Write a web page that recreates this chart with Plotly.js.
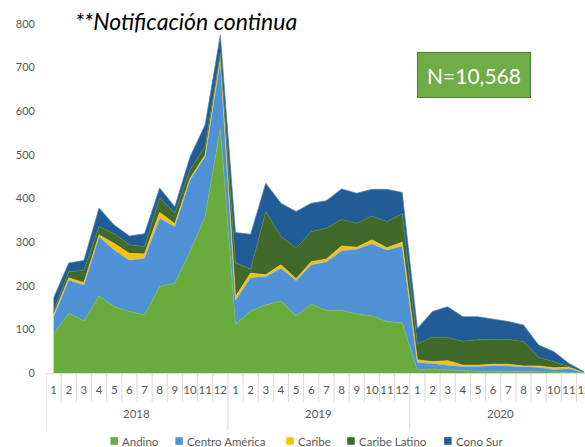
<!DOCTYPE html>
<html>
<head>
<meta charset="utf-8">
<script src="https://cdn.plot.ly/plotly-3.0.1.min.js"></script>
<style>html,body{margin:0;padding:0;background:#fff;}#chart{width:585px;height:447px;}</style>
</head>
<body>
<div id="chart"></div>
<script>
const years = ["2018", "2019", "2020"];
const months = ["1","2","3","4","5","6","7","8","9","10","11","12"];
const seriesNames = ["Andino", "Centro América", "Caribe", "Caribe Latino", "Cono Sur"];
const andino = [89,137,119,177,152,141,133,198,206,278,359,561,
                112,142,156,165,131,158,143,144,135,131,118,115,
                7,9,7,5,4,4,4,3,3,2,1,0];
const centroAmerica = [40,76,83,136,130,118,130,157,130,165,137,157,
                55,77,65,75,81,90,112,136,149,165,164,176,
                17,13,11,10,11,13,12,11,10,6,9,1];
const caribe = [4,5,5,3,15,15,10,13,6,3,4,4,
                8,10,4,8,4,7,6,11,4,9,5,9,
                6,4,10,3,3,3,4,2,3,4,3,0];
const caribeLatino = [8,14,28,20,22,20,17,33,24,20,19,11,
                78,9,145,65,70,69,71,61,55,55,60,65,
                37,56,53,55,58,57,57,56,20,14,2,1];
const conoSur = [31,20,23,42,20,20,29,23,15,29,50,42,
                69,80,65,76,84,65,63,70,69,61,74,49,
                35,59,71,56,53,46,41,38,28,23,7,1];
const yTicks = [0,100,200,300,400,500,600,700,800];
const totalLabel = "N=10,568";
const titleText = "**Notificación continua";

const ids = [], monthText = [];
years.forEach(y => months.forEach(m => { ids.push(y + "-" + m); monthText.push(m); }));
const nCat = ids.length;
const perYear = months.length;

const values = [andino, centroAmerica, caribe, caribeLatino, conoSur];
const fills = ["#6aab3d", "#4f92d5", "#ffc000", "#40692a", "#215c96"];
const lines = ["#7fbf55", "#8cb8e6", "#ffd24d", "#5a8a3c", "#4a80b8"];

const traces = values.map((v, i) => ({
  type: "scatter",
  mode: "lines",
  name: seriesNames[i],
  x: ids,
  y: v,
  stackgroup: "one",
  fillcolor: fills[i],
  line: {color: lines[i], width: 0.7},
  showlegend: false,
  hoverinfo: "skip"
}));

const fontFam = "Lato, 'Liberation Sans', sans-serif";
const plotL = 45.5, plotW = 539.5, plotB = 373, plotH = 349;
const px2x = p => (p - plotL) / plotW;
const px2y = p => (plotB - p) / plotH;
const axisGrey = "#d9d9d9";

// axis tick separators and year dividers
const shapes = [];
for (let k = 0; k <= nCat; k++) {
  const isYear = k % perYear === 0;
  shapes.push({
    type: "line", xref: "x", yref: "paper", layer: "above",
    x0: k - 0.5, x1: k - 0.5,
    y0: 0, y1: isYear ? px2y(430) : px2y(402),
    line: {color: axisGrey, width: 1}
  });
}

const annotations = years.map((y, j) => ({
  xref: "x", yref: "paper",
  x: j * perYear + (perYear - 1) / 2, y: px2y(413),
  xanchor: "center", yanchor: "middle",
  text: y, showarrow: false,
  font: {size: 11.5, color: "#595959", family: fontFam}
}));
annotations.push({
  xref: "paper", yref: "paper",
  x: px2x(474), y: px2y(75),
  xanchor: "center", yanchor: "middle",
  text: totalLabel, showarrow: false,
  font: {size: 21, color: "#ffffff", family: fontFam},
  bgcolor: "#70ad47", bordercolor: "#507e32", borderwidth: 1,
  width: 110, height: 42
});

// legend: square swatch + label
const legendSwatchX = [110, 175, 286, 347, 444];
const legendY = 441;
seriesNames.forEach((n, i) => {
  shapes.push({
    type: "rect", xref: "paper", yref: "paper", layer: "above",
    x0: px2x(legendSwatchX[i]), x1: px2x(legendSwatchX[i] + 7.5),
    y0: px2y(legendY - 3.8), y1: px2y(legendY + 3.8),
    fillcolor: fills[i], line: {width: 0}
  });
  annotations.push({
    xref: "paper", yref: "paper",
    x: px2x(legendSwatchX[i] + 10), y: px2y(legendY),
    xanchor: "left", yanchor: "middle",
    text: n, showarrow: false,
    font: {size: 11.5, color: "#595959", family: fontFam}
  });
});

const layout = {
  width: 585, height: 447,
  margin: {l: plotL, r: 0, t: 24, b: 74},
  paper_bgcolor: "#ffffff",
  plot_bgcolor: "rgba(0,0,0,0)",
  font: {family: fontFam, color: "#595959", size: 11},
  showlegend: false,
  title: {
    text: titleText,
    x: 75/585, xanchor: "left", xref: "container",
    y: 1 - 22/447, yanchor: "middle", yref: "container",
    font: {family: fontFam, size: 23, color: "#000000", style: "italic"}
  },
  xaxis: {
    type: "category",
    categoryorder: "array", categoryarray: ids,
    range: [-0.5, 35.06],
    automargin: false,
    tickmode: "array", tickvals: ids, ticktext: monthText,
    tickangle: 0,
    showline: true, linecolor: axisGrey, linewidth: 1,
    ticks: "", ticklabelstandoff: 6,
    showgrid: false, zeroline: false,
    tickfont: {size: 11.5, color: "#595959"}
  },
  yaxis: {
    range: [0, 800],
    automargin: false,
    tickvals: yTicks,
    showgrid: false, zeroline: false, showline: false,
    ticks: "", ticklabelstandoff: 10,
    tickfont: {size: 11, color: "#595959"}
  },
  shapes: shapes,
  annotations: annotations
};

Plotly.newPlot("chart", traces, layout, {displayModeBar: false, staticPlot: true});
</script>
</body>
</html>
